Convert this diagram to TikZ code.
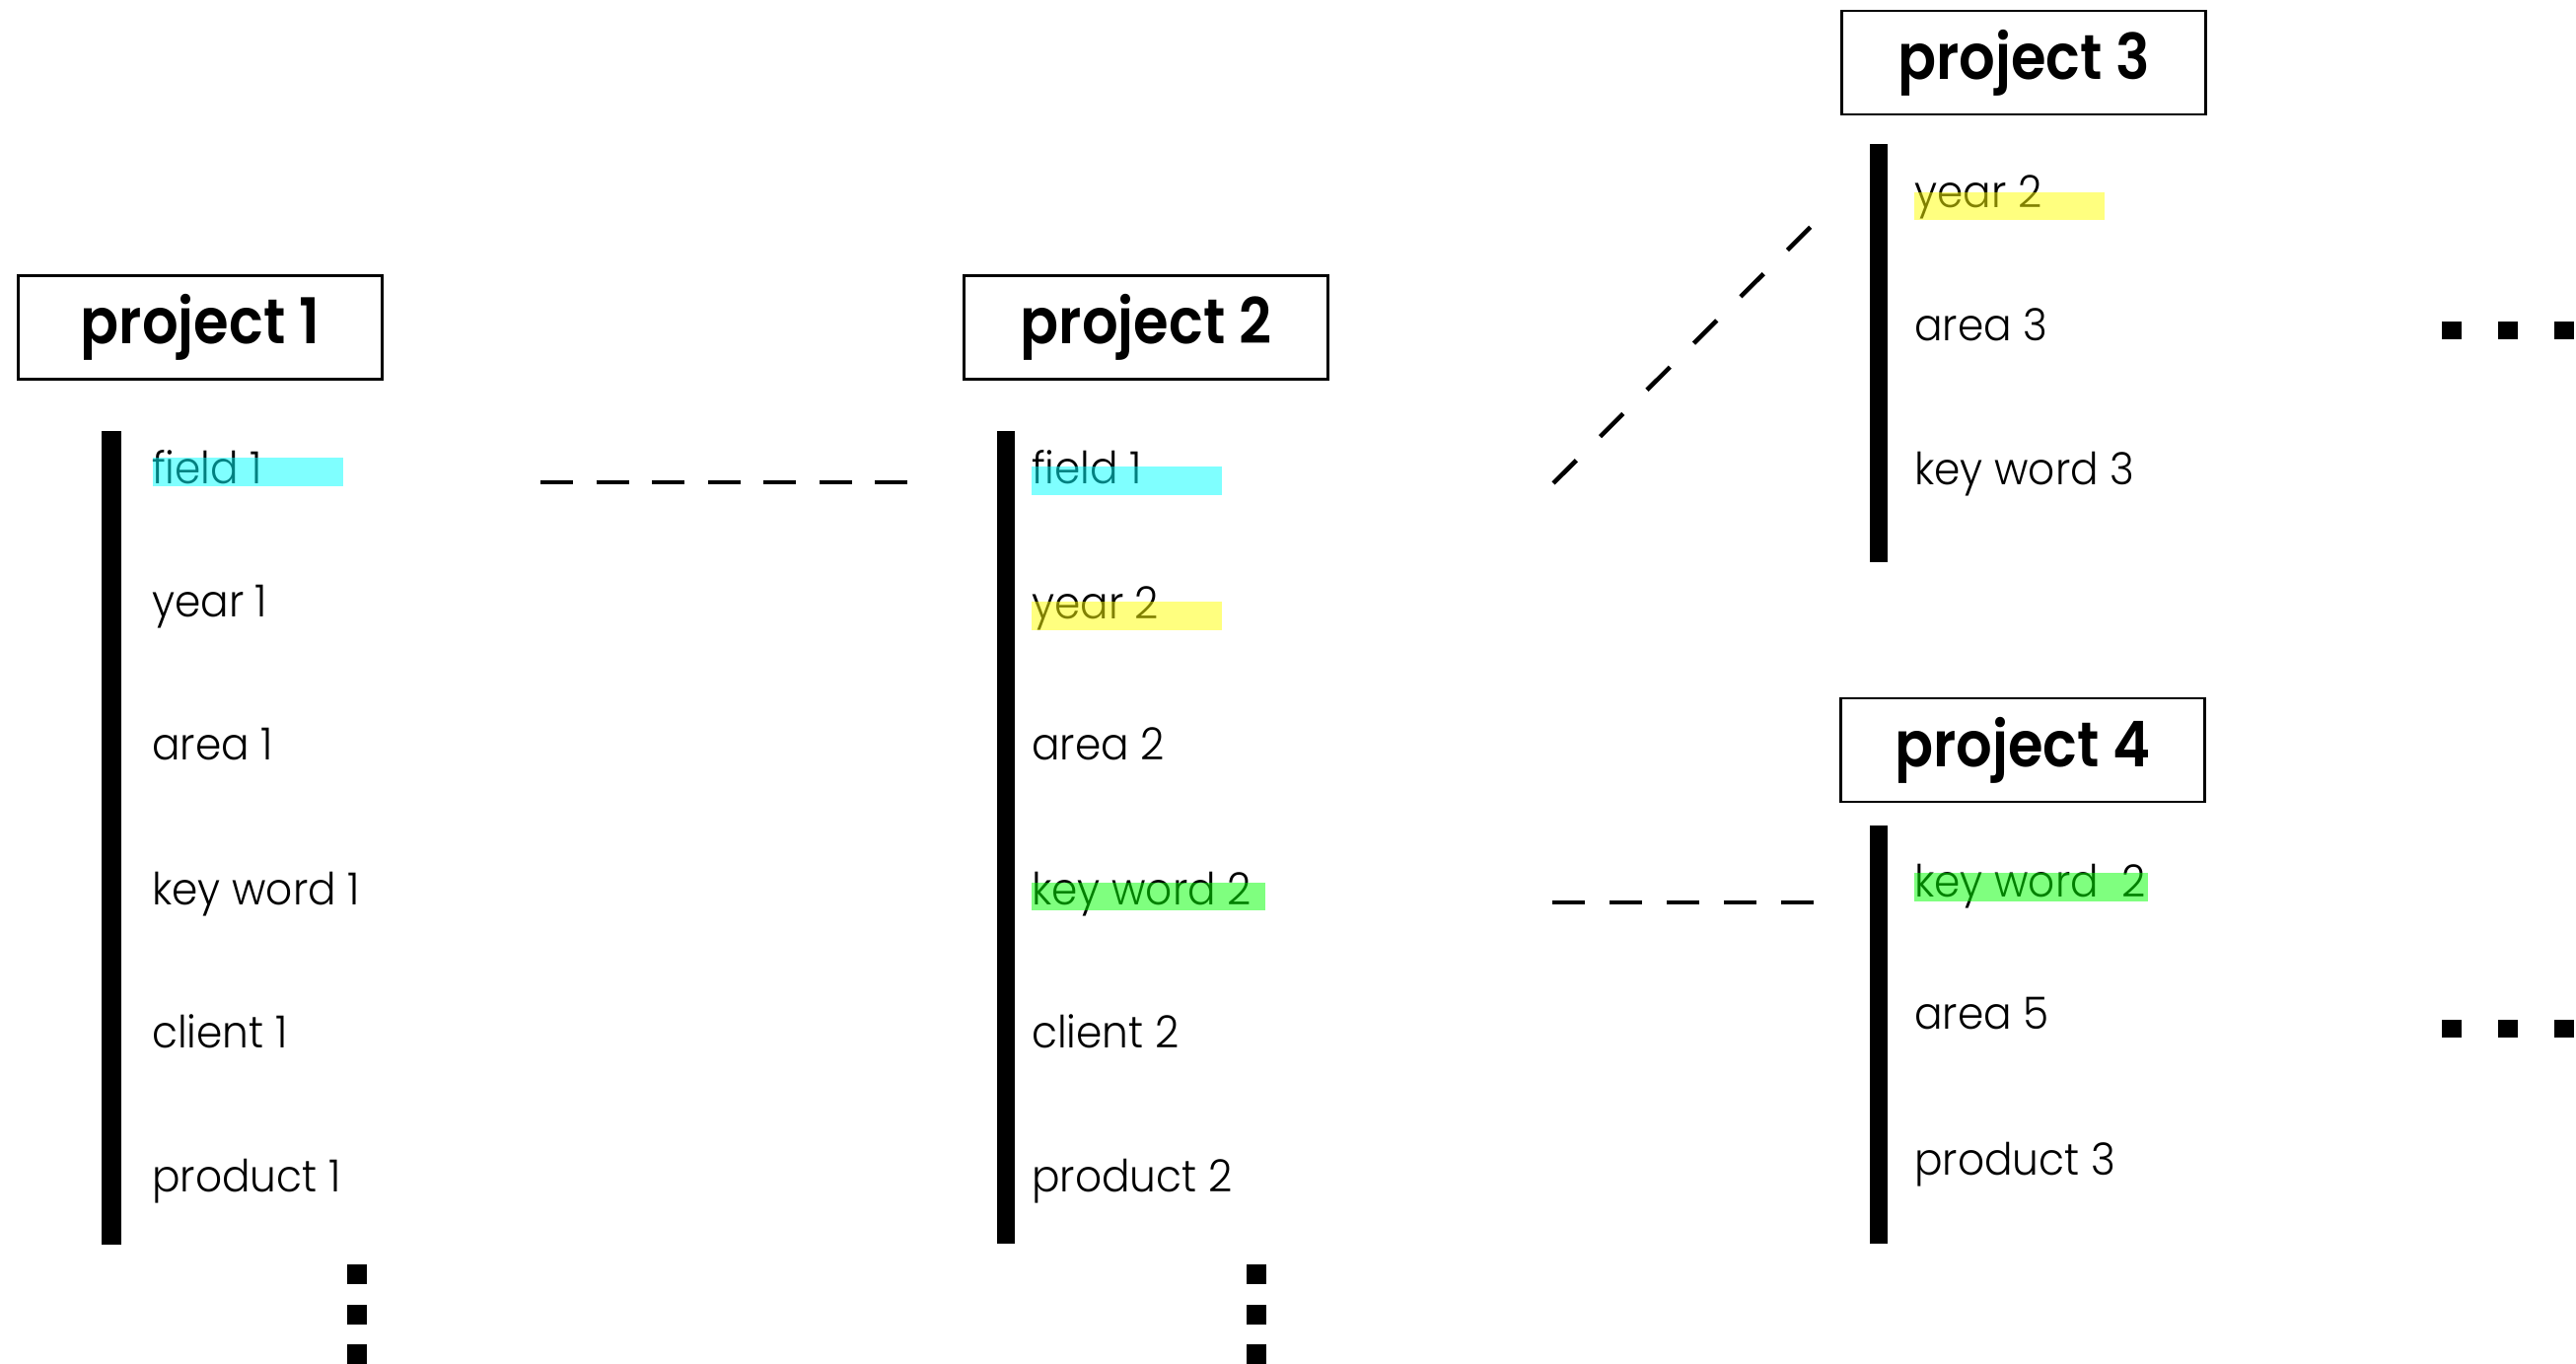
\documentclass[tikz,border=0pt]{standalone}
\usepackage{fontspec}
\setmainfont{Poppins}[UprightFont=* Light, BoldFont=* SemiBold, FakeStretch=0.94]
\newfontfamily\titlefont{Poppins}[UprightFont=* SemiBold, FakeStretch=0.9]
\begin{document}
\begin{tikzpicture}[x=1pt,y=-1pt,
  titlebox/.style={draw=black, line width=2.5pt, minimum width=369pt, minimum height=105pt, inner sep=0pt, font=\titlefont\fontsize{64}{64}\selectfont},
  item/.style={anchor=base west, inner sep=0pt, font=\fontsize{45}{45}\selectfont},
  barfill/.style={fill=black},
  dotfill/.style={fill=black},
  hlcyan/.style={fill={rgb,255:red,0;green,255;blue,255}, fill opacity=0.5},
  hlyellow/.style={fill={rgb,255:red,255;green,255;blue,0}, fill opacity=0.5},
  hlgreen/.style={fill={rgb,255:red,0;green,255;blue,0}, fill opacity=0.5},
  link/.style={line width=4.5pt}
]
\useasboundingbox (0,0) rectangle (2612,1382);

% title boxes
\node[titlebox] (p1) at (203,332) {project 1};
\node[titlebox] (p2) at (1162,332) {project 2};
\node[titlebox] (p3) at (2052,63.5) {project 3};
\node[titlebox] (p4) at (2051,760.5) {project 4};

% bars
\fill[barfill] (103,437) rectangle (123,1262);
\fill[barfill] (1011,437) rectangle (1029,1261);
\fill[barfill] (1896,146) rectangle (1914,570);
\fill[barfill] (1896,837) rectangle (1914,1261);

% column 1
\node[item] (a1) at (154,490) {field 1};
\node[item] (a2) at (154,625) {year 1};
\node[item] (a3) at (154,770) {area 1};
\node[item] (a4) at (154,917) {key word 1};
\node[item] (a5) at (154,1062) {client 1};
\node[item] (a6) at (154,1208) {product 1};

% column 2
\node[item] (b1) at (1046,490) {field 1};
\node[item] (b2) at (1046,627) {year 2};
\node[item] (b3) at (1046,770) {area 2};
\node[item] (b4) at (1046,917) {key word 2};
\node[item] (b5) at (1046,1062) {client 2};
\node[item] (b6) at (1046,1208) {product 2};

% column 3
\node[item] (c1) at (1941,210) {year 2};
\node[item] (c2) at (1941,345) {area 3};
\node[item] (c3) at (1941,491) {key word 3};

% column 4
\node[item] (e1) at (1941,909) {key word~ 2};
\node[item] (e2) at (1941,1043) {area 5};
\node[item] (e3) at (1941,1191) {product 3};

% highlights
\fill[hlcyan] (155,464) rectangle (348,493);
\fill[hlcyan] (1046,473) rectangle (1239,502);
\fill[hlyellow] (1046,610) rectangle (1239,639);
\fill[hlgreen] (1046,895) rectangle (1283,923);
\fill[hlyellow] (1941,195) rectangle (2134,223);
\fill[hlgreen] (1941,885) rectangle (2178,914);

% connector end points
\coordinate (l1s) at (548,489);
\coordinate (l1e) at (920,489);
\coordinate (l2s) at (1575,490);
\coordinate (l2e) at (1837,229);
\coordinate (l3s) at (1574,915);
\coordinate (l3e) at (1839,915);
\draw[link, dash pattern=on 33pt off 23.5pt] (l1s) -- (l1e);
\draw[link, dash pattern=on 33pt off 34pt] (l2s) -- (l2e);
\draw[link, dash pattern=on 33pt off 25pt] (l3s) -- (l3e);

% continuation dots
\foreach \yy in {1282,1323,1363} {
  \fill[dotfill] (352,\yy) rectangle (372,\yy+20);
  \fill[dotfill] (1264,\yy) rectangle (1284,\yy+20);
}
\foreach \xx in {2476,2533,2590} {
  \fill[dotfill] (\xx,326) rectangle (\xx+20,344);
  \fill[dotfill] (\xx,1034) rectangle (\xx+20,1052);
}
\end{tikzpicture}
\end{document}
